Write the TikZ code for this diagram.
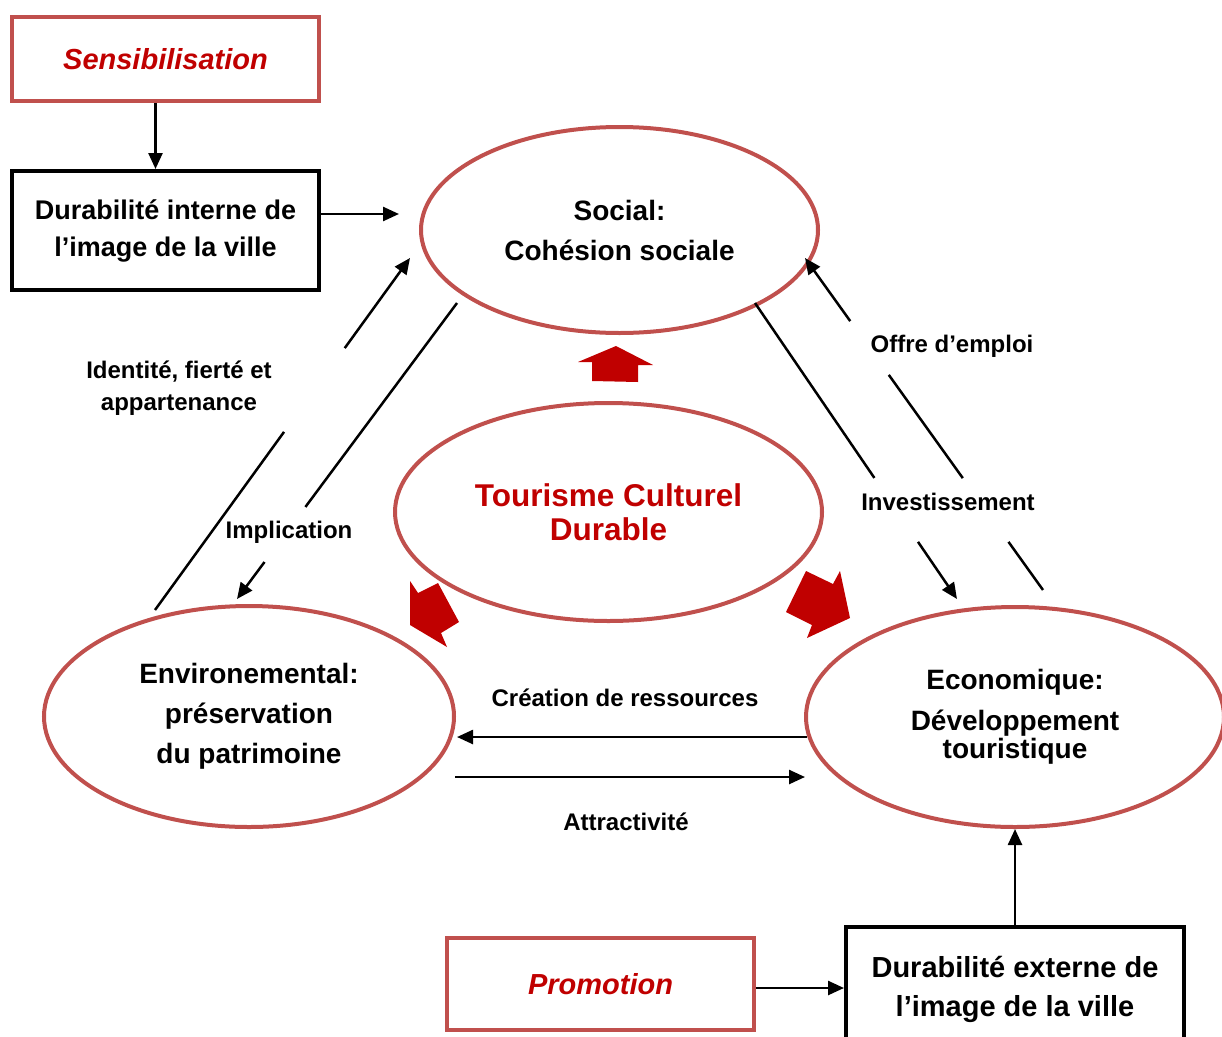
\documentclass[tikz,border=0pt]{standalone}
\usepackage{fontspec}
\setmainfont{Liberation Sans}
\usetikzlibrary{shapes.geometric,arrows.meta}
\definecolor{rimred}{RGB}{192,80,77}
\definecolor{darkred}{RGB}{192,0,0}
\tikzset{
  pole/.style={ellipse,draw=rimred,line width=4pt,inner sep=0pt,align=center,
    font=\bfseries\fontsize{28}{40}\selectfont},
  redbox/.style={draw=rimred,line width=4pt,minimum width=307pt,inner sep=0pt,
    text=darkred,font=\bfseries\itshape\fontsize{29}{35}\selectfont},
  blackbox/.style={draw=black,line width=4pt,inner sep=0pt,align=center},
  lbl/.style={font=\bfseries\fontsize{24}{32}\selectfont,align=center},
  link/.style={line width=2.5pt},
  arr/.style={link,-{Triangle[length=16pt,width=14pt]}},
}

\begin{document}
\begin{tikzpicture}[x=1pt,y=-1pt]
  \useasboundingbox (0,0) rectangle (1222,1036);
  % boxes
  \node[redbox,minimum height=84pt] (sensib) at (165.5,59) {Sensibilisation};
  \node[blackbox,minimum width=307pt,minimum height=119pt,
    font=\bfseries\fontsize{27}{37}\selectfont] (interne) at (165.5,230.5)
    {Durabilité interne de\\l’image de la ville};
  \node[redbox,minimum height=92pt] (promo) at (600.5,984) {Promotion};
  \node[blackbox,minimum width=338pt,minimum height=125pt,
    font=\bfseries\fontsize{29}{39}\selectfont] (externe) at (1015,989.5)
    {Durabilité externe de\\l’image de la ville};
  % the three poles and the centre
  \node[pole,minimum width=397pt,minimum height=206pt] (social) at (619.5,230)
    {Social:\\Cohésion sociale};
  \node[pole,minimum width=427pt,minimum height=218pt,text=darkred,
    font=\bfseries\fontsize{31.5}{34}\selectfont] (tcd) at (608.5,512)
    {Tourisme Culturel\\Durable};
  \node[pole,minimum width=410pt,minimum height=221pt] (env) at (249,716.5)
    {Environemental:\\préservation\\du patrimoine};
  \node[pole,minimum width=418pt,minimum height=220pt,
    font=\bfseries\fontsize{28}{28}\selectfont] (eco) at (1015,717)
    {Economique:\\[13pt]Développement\\touristique};
  % thick red arrows out of the centre
  \fill[darkred] (592,381) -- (592,362) -- (578,362) -- (616,346) -- (653,365)
    -- (638,365) -- (638,382) -- cycle;
  \fill[darkred] (438,583) -- (418,593) -- (410,581) -- (410,625) -- (447,647)
    -- (441,633) -- (459,622) -- cycle;
  \fill[darkred] (806,571) -- (833,584) -- (840,571) -- (850,618) -- (807,638)
    -- (812,625) -- (786,612) -- cycle;
  % box connectors
  \draw[arr] ([xshift=-10pt]sensib.south) -- ([xshift=-10pt]interne.north);
  \draw[arr,shorten >=20pt] ([yshift=16.5pt]interne.east)
    -- ([yshift=16.5pt]interne.east -| social.west);
  \draw[arr] (externe.north) -- (eco.south);
  \draw[arr] ([yshift=-4pt]promo.east) -- ([yshift=-4pt]promo.east -| externe.west);
  % env -> social, broken round its label
  \coordinate (idS) at (155,610);
  \coordinate (idE) at (410,258);
  \path (idS) -- (idE) coordinate[pos=0.506] (idG1) coordinate[pos=0.744] (idG2);
  \draw[link] (idS) -- (idG1);
  \draw[arr] (idG2) -- (idE);
  % social -> env
  \coordinate (imS) at (457,303);
  \coordinate (imE) at (237,599);
  \path (imS) -- (imE) coordinate[pos=0.689] (imG1) coordinate[pos=0.875] (imG2);
  \draw[link] (imS) -- (imG1);
  \draw[arr] (imG2) -- (imE);
  % social -> eco
  \coordinate (inS) at (755,303);
  \coordinate (inE) at (957,599);
  \path (inS) -- (inE) coordinate[pos=0.591] (inG1) coordinate[pos=0.807] (inG2);
  \draw[link] (inS) -- (inG1);
  \draw[arr] (inG2) -- (inE);
  % eco -> social, broken twice
  \coordinate (ofS) at (1043,590);
  \coordinate (ofE) at (805,258);
  \path (ofS) -- (ofE) coordinate[pos=0.145] (ofG1) coordinate[pos=0.337] (ofG2)
    coordinate[pos=0.648] (ofG3) coordinate[pos=0.810] (ofG4);
  \draw[link] (ofS) -- (ofG1);
  \draw[link] (ofG2) -- (ofG3);
  \draw[arr] (ofG4) -- (ofE);
  % eco <-> env
  \coordinate (crS) at (807,737);
  \coordinate (crE) at (457,737);
  \coordinate (atS) at (455,777);
  \coordinate (atE) at (805,777);
  \draw[arr] (crS) -- (crE);
  \draw[arr] (atS) -- (atE);
  % labels
  \node[lbl] (lid) at (179,388) {Identité, fierté et\\appartenance};
  \node[lbl] (lim) at (289,532) {Implication};
  \node[lbl] (lof) at (952,346) {Offre d’emploi};
  \node[lbl] (lin) at (948,502) {Investissement};
  \node[lbl] (lcr) at (625,698) {Création de ressources};
  \node[lbl] (lat) at (626,822) {Attractivité};
\end{tikzpicture}
\end{document}
